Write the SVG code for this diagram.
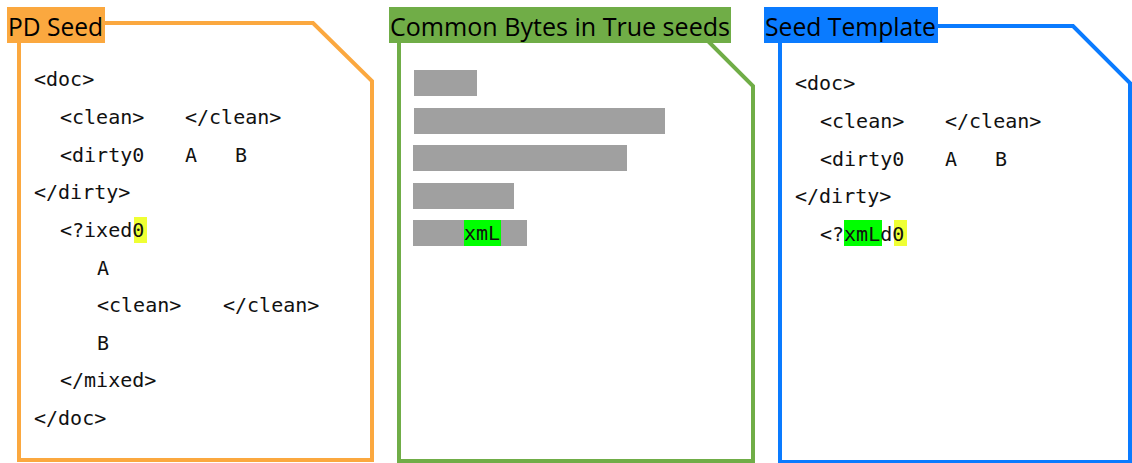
<svg xmlns="http://www.w3.org/2000/svg" width="1132" height="463" viewBox="0 0 1132 463">
  <style>
    .doc { fill: #ffffff; stroke-width: 4; stroke-linejoin: miter; }
    .title { font-family: "Open Sans", "Noto Sans", sans-serif; font-size: 25px; fill: #000000; }
    .code { font-family: "DejaVu Sans Mono", "Liberation Mono", monospace; font-size: 20px; fill: #111111; }
    .bar { fill: #a0a0a0; }
    .hl-y { fill: #efff34; }
    .hl-g { fill: #00ff00; }
  </style>
  <rect width="1132" height="463" fill="#ffffff"/>

  <!-- PD seed document -->
  <g id="pd-seed">
    <path class="doc" stroke="#fba83f" d="M19,23 H313 L372,81 V460 H19 Z"/>
    <rect x="134" y="217" width="13" height="26" class="hl-y"/>
    <g class="code">
      <text x="34" y="86">&lt;doc&gt;</text>
      <text x="60" y="124">&lt;clean&gt;</text>
      <text x="185" y="124">&lt;/clean&gt;</text>
      <text x="60" y="162">&lt;dirty0</text>
      <text x="185" y="162">A</text>
      <text x="235" y="162">B</text>
      <text x="34" y="199">&lt;/dirty&gt;</text>
      <text x="60" y="237">&lt;?ixed0</text>
      <text x="97" y="275">A</text>
      <text x="97" y="312">&lt;clean&gt;</text>
      <text x="223" y="312">&lt;/clean&gt;</text>
      <text x="97" y="350">B</text>
      <text x="60" y="387">&lt;/mixed&gt;</text>
      <text x="34" y="425">&lt;/doc&gt;</text>
    </g>
    <rect x="7" y="7" width="98" height="36" fill="#fba83f"/>
    <text class="title" x="8" y="36" textLength="95" lengthAdjust="spacingAndGlyphs">PD Seed</text>
  </g>

  <!-- common bytes document -->
  <g id="common-bytes">
    <path class="doc" stroke="#70ad47" d="M399,23 H690 L753,86 V461 H399 Z"/>
    <rect class="bar" x="414" y="70" width="63" height="26"/>
    <rect class="bar" x="414" y="108" width="251" height="26"/>
    <rect class="bar" x="413" y="145" width="214" height="26"/>
    <rect class="bar" x="413" y="183" width="101" height="26"/>
    <rect class="bar" x="413" y="220" width="114" height="26"/>
    <rect class="hl-g" x="464" y="220" width="37" height="26"/>
    <text class="code" x="464" y="240">xmL</text>
    <rect x="389" y="7" width="342" height="36" fill="#70ad47"/>
    <text class="title" x="390" y="36" textLength="340" lengthAdjust="spacingAndGlyphs">Common Bytes in True seeds</text>
  </g>

  <!-- seed template document -->
  <g id="seed-template">
    <path class="doc" stroke="#0a7bff" d="M780,26 H1073 L1130,83 V462 H780 Z"/>
    <rect x="844" y="220" width="38" height="26" class="hl-g"/>
    <rect x="894" y="220" width="13" height="26" class="hl-y"/>
    <g class="code">
      <text x="795" y="90">&lt;doc&gt;</text>
      <text x="820" y="128">&lt;clean&gt;</text>
      <text x="945" y="128">&lt;/clean&gt;</text>
      <text x="820" y="166">&lt;dirty0</text>
      <text x="945" y="166">A</text>
      <text x="995" y="166">B</text>
      <text x="795" y="203">&lt;/dirty&gt;</text>
      <text x="820" y="241">&lt;?xmLd0</text>
    </g>
    <rect x="764" y="7" width="174" height="36" fill="#0a7bff"/>
    <text class="title" x="765" y="36" textLength="171" lengthAdjust="spacingAndGlyphs">Seed Template</text>
  </g>
</svg>
